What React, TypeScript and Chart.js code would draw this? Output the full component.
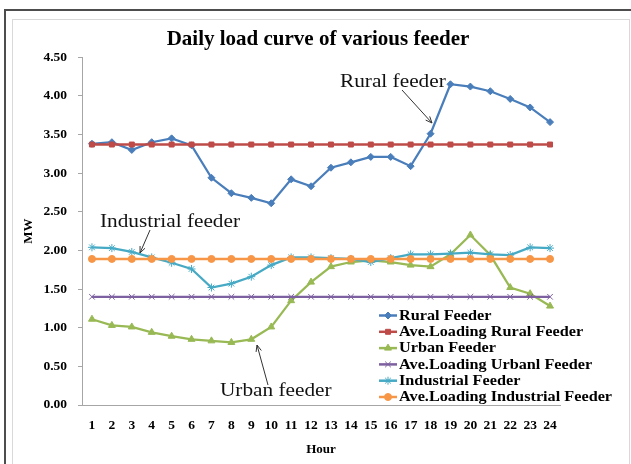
import React, { useEffect, useRef } from 'react';
import { Chart, registerables } from 'chart.js';
import { drawPoint } from 'chart.js/helpers';

Chart.register(...registerables);

const hours = ['1', '2', '3', '4', '5', '6', '7', '8', '9', '10', '11', '12', '13', '14', '15', '16', '17', '18', '19', '20', '21', '22', '23', '24'];

const ruralFeeder = [3.38, 3.40, 3.30, 3.40, 3.45, 3.36, 2.94, 2.74, 2.68, 2.61, 2.92, 2.83, 3.07, 3.14, 3.21, 3.21, 3.09, 3.51, 4.15, 4.12, 4.06, 3.96, 3.85, 3.66];
const aveLoadingRural = [3.37, 3.37, 3.37, 3.37, 3.37, 3.37, 3.37, 3.37, 3.37, 3.37, 3.37, 3.37, 3.37, 3.37, 3.37, 3.37, 3.37, 3.37, 3.37, 3.37, 3.37, 3.37, 3.37, 3.37];
const urbanFeeder = [1.11, 1.03, 1.01, 0.94, 0.89, 0.85, 0.83, 0.81, 0.85, 1.01, 1.35, 1.59, 1.79, 1.85, 1.87, 1.85, 1.81, 1.79, 1.95, 2.20, 1.94, 1.52, 1.44, 1.28];
const aveLoadingUrban = [1.40, 1.40, 1.40, 1.40, 1.40, 1.40, 1.40, 1.40, 1.40, 1.40, 1.40, 1.40, 1.40, 1.40, 1.40, 1.40, 1.40, 1.40, 1.40, 1.40, 1.40, 1.40, 1.40, 1.40];
const industrialFeeder = [2.04, 2.03, 1.98, 1.91, 1.84, 1.76, 1.52, 1.57, 1.66, 1.81, 1.91, 1.91, 1.90, 1.89, 1.85, 1.90, 1.95, 1.95, 1.96, 1.97, 1.95, 1.94, 2.04, 2.03];
const aveLoadingIndustrial = [1.89, 1.89, 1.89, 1.89, 1.89, 1.89, 1.89, 1.89, 1.89, 1.89, 1.89, 1.89, 1.89, 1.89, 1.89, 1.89, 1.89, 1.89, 1.89, 1.89, 1.89, 1.89, 1.89, 1.89];

const seriesLabels = [
  'Rural Feeder',
  'Ave.Loading Rural Feeder',
  'Urban Feeder',
  'Ave.Loading Urbanl Feeder',
  'Industrial Feeder',
  'Ave.Loading Industrial Feeder',
];

const titleText = 'Daily load curve of various feeder';
const xTitle = 'Hour';
const yTitle = 'MW';

const annotations = [
  { text: 'Rural feeder', tx: 340, ty: 82, from: [402, 90], to: [432, 123] },
  { text: 'Industrial feeder', tx: 100, ty: 222, from: [150, 230], to: [140, 253] },
  { text: 'Urban feeder', tx: 220, ty: 391, from: [268, 385], to: [257, 345] },
];

const SERIF = '"Liberation Serif", "Times New Roman", serif';

function scaledText(ctx: CanvasRenderingContext2D, text: string, x: number, y: number, sx: number) {
  ctx.save();
  ctx.translate(x, y);
  ctx.scale(sx, 1);
  ctx.fillText(text, 0, 0);
  ctx.restore();
}

const overlayPlugin = {
  id: 'overlay',
  afterDraw(chart: any) {
    const ctx: CanvasRenderingContext2D = chart.ctx;
    ctx.save();
    // Legend
    const top = 315.5;
    const step = 16.3;
    chart.data.datasets.forEach((ds: any, i: number) => {
      const y = top + i * step;
      ctx.strokeStyle = ds.borderColor;
      ctx.fillStyle = ds.pointBackgroundColor;
      ctx.lineWidth = 2.5;
      ctx.beginPath();
      ctx.moveTo(379, y);
      ctx.lineTo(397, y);
      ctx.stroke();
      ctx.lineWidth = 1;
      drawPoint(ctx, { pointStyle: ds.pointStyle, radius: ds.pointRadius, borderWidth: 1, rotation: 0 } as any, 388, y);
      ctx.fillStyle = '#000';
      ctx.font = 'bold 14.5px ' + SERIF;
      ctx.textBaseline = 'middle';
      ctx.textAlign = 'left';
      scaledText(ctx, ds.label, 399, y + 0.5, 1.12);
    });
    // Annotations
    annotations.forEach((a) => {
      ctx.fillStyle = '#111';
      ctx.font = '19px ' + SERIF;
      ctx.textBaseline = 'middle';
      ctx.textAlign = 'left';
      scaledText(ctx, a.text, a.tx, a.ty, 1.12);
      const [x1, y1] = a.from;
      const [x2, y2] = a.to;
      ctx.strokeStyle = '#333';
      ctx.lineWidth = 1;
      ctx.beginPath();
      ctx.moveTo(x1, y1);
      ctx.lineTo(x2, y2);
      ctx.stroke();
      const ang = Math.atan2(y2 - y1, x2 - x1);
      const h = 7;
      ctx.beginPath();
      ctx.moveTo(x2 - h * Math.cos(ang - 0.4), y2 - h * Math.sin(ang - 0.4));
      ctx.lineTo(x2, y2);
      ctx.lineTo(x2 - h * Math.cos(ang + 0.4), y2 - h * Math.sin(ang + 0.4));
      ctx.stroke();
    });
    ctx.restore();
  },
};

function makeDataset(label: string, data: number[], color: string, pointStyle: string, radius: number, width: number, order: number) {
  return {
    label,
    data,
    borderColor: color,
    backgroundColor: color,
    pointBackgroundColor: color,
    pointBorderColor: color,
    pointStyle,
    pointRadius: radius,
    pointBorderWidth: 1,
    borderWidth: width,
    tension: 0,
    fill: false,
    order,
  };
}

export default function App() {
  const canvasRef = useRef<HTMLCanvasElement | null>(null);

  useEffect(() => {
    const canvas = canvasRef.current;
    if (!canvas) return;
    const tickFont = { family: SERIF, size: 13.5, weight: 'bold' as const };
    const chart = new Chart(canvas, {
      type: 'line',
      data: {
        labels: hours,
        datasets: [
          makeDataset(seriesLabels[0], ruralFeeder, '#4A7EBB', 'rectRot', 3.5, 2.25, 5),
          makeDataset(seriesLabels[1], aveLoadingRural, '#BE4B48', 'rect', 3.5, 2.5, 4),
          makeDataset(seriesLabels[2], urbanFeeder, '#98B954', 'triangle', 4, 2.25, 3),
          makeDataset(seriesLabels[3], aveLoadingUrban, '#7D60A0', 'crossRot', 4, 2.25, 2),
          makeDataset(seriesLabels[4], industrialFeeder, '#46AAC5', 'star', 4, 2.25, 1),
          makeDataset(seriesLabels[5], aveLoadingIndustrial, '#F79646', 'circle', 3.5, 2.5, 0),
        ],
      },
      options: {
        responsive: false,
        animation: false,
        devicePixelRatio: 1,
        layout: { padding: { left: 5, right: 0, top: 0, bottom: 0 } },
        plugins: {
          legend: { display: false },
          tooltip: { enabled: false },
          title: {
            display: true,
            text: titleText,
            color: '#000',
            font: { family: SERIF, size: 21, weight: 'bold' },
            padding: { top: 27, bottom: 5 },
          },
        },
        scales: {
          x: {
            type: 'category',
            offset: true,
            grid: { display: false, drawTicks: false },
            border: { display: true, color: '#a6a6a6', width: 1 },
            ticks: { color: '#000', font: tickFont, padding: 12, maxRotation: 0, autoSkip: false },
            title: { display: true, text: xTitle, color: '#000', font: { family: SERIF, size: 13, weight: 'bold' }, padding: { top: 0, bottom: 7 } },
            afterFit: (s: any) => { s.height = 59; },
          },
          y: {
            type: 'linear',
            min: 0,
            max: 4.5,
            grid: { display: true, drawOnChartArea: false, drawTicks: true, tickLength: 4, color: '#a6a6a6' },
            border: { display: true, color: '#a6a6a6', width: 1 },
            ticks: {
              stepSize: 0.5,
              color: '#000',
              font: tickFont,
              padding: 11,
              callback: (v: any) => Number(v).toFixed(2),
            },
            title: { display: true, text: yTitle, color: '#000', font: { family: SERIF, size: 13, weight: 'bold' }, padding: { top: 16, bottom: 0 } },
            afterFit: (s: any) => { s.width = 77; },
          },
          y2: {
            type: 'linear',
            position: 'right',
            display: true,
            grid: { display: false, drawTicks: false },
            border: { display: false },
            ticks: { display: false },
            afterFit: (s: any) => { s.width = 71; },
          },
        },
      },
      plugins: [overlayPlugin],
    } as any);
    return () => chart.destroy();
  }, []);

  return (
    <div style={{ position: 'fixed', left: 0, top: 0, width: 631, height: 464, overflow: 'hidden', background: '#fff' }}>
      <div style={{ position: 'absolute', left: 4, top: 9, width: 700, height: 600, borderLeft: '2px solid #4d4d4d', borderTop: '2px solid #4d4d4d' }} />
      <div style={{ position: 'absolute', left: 12, top: 19, width: 616, height: 520, border: '1px solid #d9d9d9' }} />
      <canvas ref={canvasRef} width={631} height={464} style={{ position: 'absolute', left: 0, top: 0, width: 631, height: 464 }} />
    </div>
  );
}
